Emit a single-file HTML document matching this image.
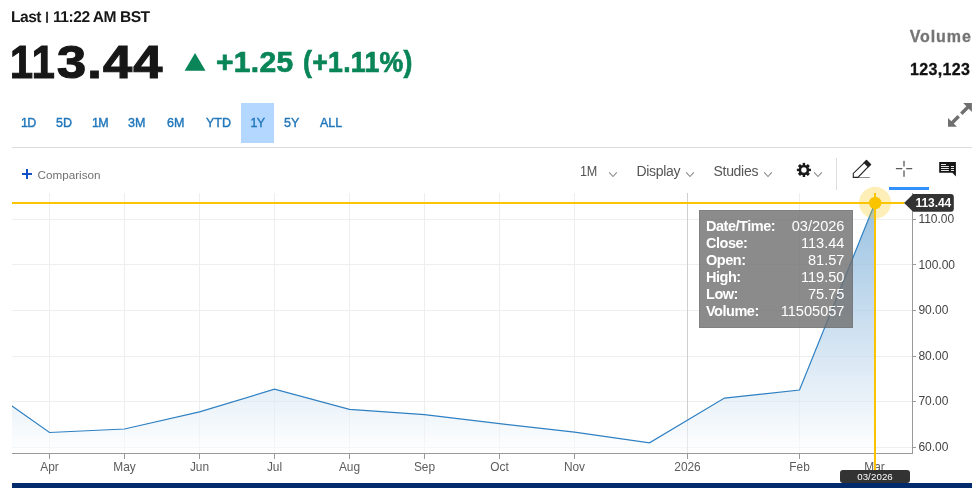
<!DOCTYPE html>
<html><head><meta charset="utf-8">
<style>
html,body{margin:0;padding:0;background:#fff;}
body{width:976px;height:493px;position:relative;overflow:hidden;font-family:"Liberation Sans",sans-serif;}
.abs{position:absolute;white-space:nowrap;line-height:1;}
#last{left:11px;top:8.5px;font-size:15.6px;transform:rotate(0.03deg);transform-origin:0 0;font-weight:bold;color:#171717;letter-spacing:-0.5px;}
#price{left:0;top:39px;font-size:46px;font-weight:bold;color:#171717;-webkit-text-stroke:1.2px #171717;letter-spacing:1px;}
#price span,#chg span{position:absolute;top:0;transform-origin:0 0;white-space:nowrap;}
#chg{left:0;top:47px;font-size:30px;font-weight:bold;color:#0a8558;-webkit-text-stroke:0.7px #0a8558;letter-spacing:0.3px;}
.tab{position:absolute;top:103px;height:40px;line-height:40px;font-size:12.5px;color:#2277bb;text-align:center;-webkit-text-stroke:0.4px #2277bb;}
#vol{right:4.3px;top:29px;font-size:16px;letter-spacing:0.9px;font-weight:bold;color:#747474;-webkit-text-stroke:0.3px #747474;}
#volv{right:5.7px;top:61.5px;font-size:16px;letter-spacing:0.35px;font-weight:bold;color:#101010;-webkit-text-stroke:0.3px #101010;}
#sep{left:12px;top:147px;width:960px;height:1px;background:#dcdcdc;}
#cmp{left:37.5px;top:168.5px;font-size:11.7px;color:#717171;}
.tb{position:absolute;top:164px;font-size:14px;letter-spacing:-0.3px;color:#555;line-height:1;white-space:nowrap;}
.tt{box-shadow:inset 0 0 0 1px rgba(0,0,0,0.07);position:absolute;left:699px;top:210px;width:154px;height:118px;background:rgba(110,110,110,0.8);box-sizing:border-box;}
.tt div{position:absolute;font-size:14.6px;color:#fff;line-height:17px;height:17px;white-space:nowrap;}
.tt .l{left:7px;font-weight:bold;font-size:14.5px;letter-spacing:-0.48px;}
.tt .v{right:8.5px;text-align:right;}
svg text{font-family:"Liberation Sans",sans-serif;}
</style></head><body>
<div class="abs" id="last">Last <span style="font-size:11.1px;display:inline-block;vertical-align:1.9px;-webkit-text-stroke:0.5px #171717;width:4.3px;text-align:center;letter-spacing:0">|</span> 11:22 AM BST</div>
<div class="abs" id="price"><span style="left:10px;transform:scaleX(0.9)">11</span><span style="left:57px;transform:scaleX(1.138)">3.44</span></div>
<div class="abs" id="chg"><span style="left:216px;">+1.25 </span><span style="left:303px;transform:scaleX(0.89)">(+1.11%)</span></div>
<div class="abs" id="vol">Volume</div>
<div class="abs" id="volv">123,123</div>

<div class="tab" style="left:241px;width:33px;background:#b3d7ff;"></div>
<div class="tab" style="left:21px;letter-spacing:-0.8px;">1D</div>
<div class="tab" style="left:56px;">5D</div>
<div class="tab" style="left:92px;letter-spacing:-0.6px;">1M</div>
<div class="tab" style="left:128px;">3M</div>
<div class="tab" style="left:167px;">6M</div>
<div class="tab" style="left:206px;">YTD</div>
<div class="tab" style="left:250.5px;letter-spacing:-0.8px;">1Y</div>
<div class="tab" style="left:284px;">5Y</div>
<div class="tab" style="left:320px;">ALL</div>
<div class="abs" id="sep"></div>

<div class="abs" id="cmp">Comparison</div>
<div class="tb" style="left:579.5px;transform:scaleX(0.9);transform-origin:0 0;">1M</div>
<div class="tb" style="left:636.5px;">Display</div>
<div class="tb" style="left:713.5px;">Studies</div>

<svg class="abs" style="left:0;top:0" width="976" height="493" viewBox="0 0 976 493">
<defs>
<linearGradient id="g" x1="0" y1="193" x2="0" y2="453" gradientUnits="userSpaceOnUse">
<stop offset="0" stop-color="#2f80c2" stop-opacity="0.5"/><stop offset="1" stop-color="#2f80c2" stop-opacity="0"/>
</linearGradient>
<clipPath id="cp"><rect x="12" y="193" width="900" height="260"/></clipPath>
</defs>
<!-- expand icon -->
<g fill="#6f6f6f" stroke="#6f6f6f">
<line x1="961.3" y1="113.7" x2="968" y2="107" stroke-width="3.4"/>
<line x1="958.7" y1="116.3" x2="952" y2="123" stroke-width="3.4"/>
<path d="M963.2 103.1H971.9V111.9Z" stroke="none"/>
<path d="M948 118.1V126.8H956.9Z" stroke="none"/>
</g>
<path d="M184.6 70.7H205.5L195.05 53Z" fill="#0a8558"/>
<!-- plus -->
<path d="M22 174H32M27 169V179" stroke="#1352c6" stroke-width="2" fill="none"/>
<!-- chevrons -->
<g stroke="#8a8a8a" stroke-width="1.1" fill="none">
<path d="M609.2 172.3L613 176.5L616.8 172.3"/>
<path d="M686.2 172.3L690 176.5L693.8 172.3"/>
<path d="M764.2 172.3L768 176.5L771.8 172.3"/>
<path d="M814.2 172.3L818 176.5L821.8 172.3"/>
</g>
<!-- gear -->
<g transform="translate(803.9,169.95)">
<g fill="#1a1a1a">
<rect x="-1.2" y="-7.05" width="2.4" height="14.1"/>
<rect x="-1.5" y="-7" width="3" height="14" transform="rotate(45)"/>
<rect x="-1.2" y="-7.05" width="2.4" height="14.1" transform="rotate(90)"/>
<rect x="-1.5" y="-7" width="3" height="14" transform="rotate(135)"/>
<circle r="5.3"/>
</g>
<circle r="2.7" fill="#fff"/>
</g>
<!-- separator -->
<rect x="836" y="158" width="1" height="32" fill="#ddd"/>
<!-- pencil -->
<path d="M857.8 177.5H869.8" stroke="#8c8c8c" stroke-width="1" fill="none"/>
<g stroke="#222" stroke-width="1.1" fill="none" stroke-linejoin="miter">
<path d="M857.9 177.4H853.3V173.4L866.5 160.5L870.5 164.5Z"/>
<path d="M864.2 162.7L866.5 160.5L870.5 164.5L868.2 166.8Z" fill="#222"/>
</g>
<!-- crosshair -->
<g stroke="#5a5a5a" stroke-width="1.3" fill="none">
<path d="M904 160.7V166.4M904 170.6V176.8M895.9 168.55H902.3M906.2 168.55H912.2"/>
</g>
<rect x="889" y="187" width="40" height="3" fill="#3391ff"/>
<!-- comment -->
<g>
<path d="M939.2 162H955.9V176.6L952.4 172.7H939.2Z" fill="#161616"/>
<path d="M941 164.5H946M941 166.5H948.9M950.9 166.5H954M941 168.5H948.9M950.9 168.5H954M941 170.5H948.9M950.9 170.5H954" stroke="#fff" stroke-width="0.9"/>
</g>

<!-- grid -->
<g stroke="#eeeeee" stroke-width="1">
<path d="M12 219.5H912M12 264.5H912M12 310.5H912M12 356.5H912M12 401.5H912M12 447.5H912"/>
<path d="M49.5 193V453M124.5 193V453M199.5 193V453M274.5 193V453M349.5 193V453M424.5 193V453M499.5 193V453M574.5 193V453M799.5 193V453M874.5 193V453"/>
</g>
<path d="M687.5 193V453" stroke="#cfcfcf" stroke-width="1"/>
<!-- area -->
<g clip-path="url(#cp)">
<path d="M-25.5 379.7L49.5 432.5L124.5 429L199.5 411.8L274.5 389.2L349.5 409.3L424.5 414.7L499.5 423.6L574.5 432.2L649.5 442.8L724.5 398.1L799.5 390L875 203L875 453L-25.5 453Z" fill="#fff" fill-opacity="0.55"/>
<path id="area" d="M-25.5 379.7L49.5 432.5L124.5 429L199.5 411.8L274.5 389.2L349.5 409.3L424.5 414.7L499.5 423.6L574.5 432.2L649.5 442.8L724.5 398.1L799.5 390L875 203L875 453L-25.5 453Z" fill="url(#g)"/>
<path d="M-25.5 379.7L49.5 432.5L124.5 429L199.5 411.8L274.5 389.2L349.5 409.3L424.5 414.7L499.5 423.6L574.5 432.2L649.5 442.8L724.5 398.1L799.5 390L875 203" fill="none" stroke="#2f80c2" stroke-width="1.2"/>
</g>
<!-- axes -->
<g stroke="#999" stroke-width="1" fill="none">
<path d="M12 453.5H913"/>
<path d="M912.5 193V453"/>
<path d="M49.5 453V459M124.5 453V459M199.5 453V459M274.5 453V459M349.5 453V459M424.5 453V459M499.5 453V459M574.5 453V459M687.5 453V459M799.5 453V459M874.5 453V459"/>
<path d="M912 219.5H916M912 264.5H916M912 310.5H916M912 356.5H916M912 401.5H916M912 447.5H916"/>
</g>
<g font-size="11.9" fill="#5c5c5c" text-anchor="middle">
<text x="49.5" y="471">Apr</text><text x="124.5" y="471">May</text><text x="199.5" y="471">Jun</text><text x="274.5" y="471">Jul</text><text x="349.5" y="471">Aug</text><text x="424.5" y="471">Sep</text><text x="499.5" y="471">Oct</text><text x="574.5" y="471">Nov</text><text x="687.5" y="471">2026</text><text x="799.5" y="471">Feb</text><text x="874.5" y="471">Mar</text>
</g>
<g font-size="12" fill="#444" letter-spacing="-0.05">
<text x="918.5" y="223">110.00</text><text x="918.5" y="268.5">100.00</text><text x="918.5" y="314">90.00</text><text x="918.5" y="359.5">80.00</text><text x="918.5" y="405">70.00</text><text x="918.5" y="451">60.00</text>
</g>
<!-- crosshair lines -->
<circle cx="875" cy="202.7" r="16" fill="#fbc400" fill-opacity="0.28"/>
<rect x="12" y="202" width="892.5" height="2" fill="#fbc400"/>
<rect x="874" y="193" width="2" height="278" fill="#fbc400"/>
<circle cx="875.2" cy="203" r="6.2" fill="#fbc400"/>
<!-- price label -->
<path d="M904.1 203L913.2 194.1H950.8Q953.8 194.1 953.8 197.1V208.7Q953.8 211.7 950.8 211.7H913.2Z" fill="#333"/>
<text x="915.6" y="207.3" font-size="12" font-weight="bold" fill="#fff" letter-spacing="-0.1">113.44</text>
<!-- date label -->
<rect x="840" y="470" width="70" height="13" rx="3" fill="#333"/>
<text x="875" y="479.9" font-size="9.7" fill="#fff" text-anchor="middle" letter-spacing="0.1">03/2026</text>
<!-- bottom bar -->
<rect x="12" y="483" width="960" height="5" fill="#002b6b"/>
</svg>

<div class="tt">
<div class="l" style="top:8px">Date/Time:</div><div class="v" style="top:8px">03/2026</div>
<div class="l" style="top:25px">Close:</div><div class="v" style="top:25px">113.44</div>
<div class="l" style="top:42px">Open:</div><div class="v" style="top:42px">81.57</div>
<div class="l" style="top:59px">High:</div><div class="v" style="top:59px">119.50</div>
<div class="l" style="top:76px">Low:</div><div class="v" style="top:76px">75.75</div>
<div class="l" style="top:93px">Volume:</div><div class="v" style="top:93px">11505057</div>
</div>
</body></html>
